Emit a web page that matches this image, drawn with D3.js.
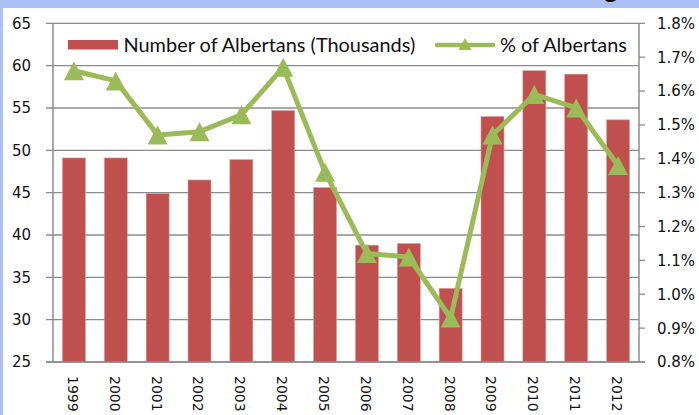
<!DOCTYPE html>
<html>
<head>
<meta charset="utf-8">
<script src="https://cdn.jsdelivr.net/npm/d3@7"></script>
<style>
  html, body { margin: 0; padding: 0; background: #fff; }
  svg { display: block; }
</style>
</head>
<body>
<svg id="svg" width="699" height="415"></svg>
<script>
const years = ['1999', '2000', '2001', '2002', '2003', '2004', '2005', '2006', '2007', '2008', '2009', '2010', '2011', '2012']
const albertans = [49.1, 49.1, 44.9, 46.5, 48.9, 54.7, 45.6, 38.8, 39.0, 33.7, 54.0, 59.4, 59.0, 53.6]
const pctAlbertans = [1.66, 1.63, 1.47, 1.48, 1.53, 1.67, 1.36, 1.12, 1.11, 0.93, 1.47, 1.59, 1.55, 1.38]
const leftTicks = [25, 30, 35, 40, 45, 50, 55, 60, 65]
const rightTicks = [0.8, 0.9, 1.0, 1.1, 1.2, 1.3, 1.4, 1.5, 1.6, 1.7, 1.8]
const legendLabels = ['Number of Albertans (Thousands)', '% of Albertans']

const barColor = '#c0504d'
const lineColor = '#9bbb59'
const gridColor = '#8c8c8c'

const svg = d3.select('#svg')

// light blue frame that bleeds in from the slide behind the chart
svg.append('rect').attr('x', 0).attr('y', 0).attr('width', 699).attr('height', 8).attr('fill', '#abc0f4')
svg.append('rect').attr('x', 0).attr('y', 0).attr('width', 3).attr('height', 415).attr('fill', '#abc0f4')
// the cut-off title, only the descender shows
svg.append('text').attr('x', 604).attr('y', -2)
  .style('font-family', 'Lato, sans-serif').style('font-size', '26px').style('font-weight', 'bold')
  .text('g')

const plotLeft = 53, plotRight = 639, plotTop = 23.3, plotBottom = 362

const x = d3.scaleBand().domain(years).range([plotLeft, plotRight]).paddingInner(0.45).paddingOuter(0.225)
const y = d3.scaleLinear().domain([25, 65]).range([plotBottom, plotTop])
const y2 = d3.scaleLinear().domain([0.8, 1.8]).range([plotBottom, plotTop])

// gridlines
svg.append('g')
  .selectAll('line')
  .data(leftTicks)
  .enter()
  .append('line')
  .attr('x1', plotLeft - 7)
  .attr('x2', plotRight)
  .attr('y1', d => y(d))
  .attr('y2', d => y(d))
  .attr('stroke', gridColor)
  .attr('stroke-width', 1.3)

// left axis labels
svg.append('g')
  .selectAll('text')
  .data(leftTicks)
  .enter()
  .append('text')
  .attr('x', 31)
  .attr('y', d => y(d))
  .attr('dy', '0.36em')
  .attr('text-anchor', 'end')
  .style('font-family', 'DejaVu Sans, sans-serif')
  .style('font-size', '15px')
  .attr('fill', '#111')
  .text(d => d)

// right axis ticks + labels
svg.append('g')
  .selectAll('line')
  .data(rightTicks)
  .enter()
  .append('line')
  .attr('x1', plotRight)
  .attr('x2', plotRight + 6)
  .attr('y1', d => y2(d))
  .attr('y2', d => y2(d))
  .attr('stroke', gridColor)
  .attr('stroke-width', 1.3)

svg.append('g')
  .selectAll('text')
  .data(rightTicks)
  .enter()
  .append('text')
  .attr('x', 657)
  .attr('y', d => y2(d))
  .attr('dy', '0.36em')
  .style('font-family', 'DejaVu Sans, sans-serif')
  .style('font-size', '15px')
  .attr('fill', '#111')
  .text(d => d3.format('.1f')(d) + '%')

// axis lines
svg.append('line').attr('x1', plotLeft).attr('x2', plotLeft).attr('y1', plotTop).attr('y2', plotBottom)
  .attr('stroke', gridColor).attr('stroke-width', 1.5)
svg.append('line').attr('x1', plotRight).attr('x2', plotRight).attr('y1', plotTop).attr('y2', plotBottom)
  .attr('stroke', gridColor).attr('stroke-width', 1.5)

// bars
svg.append('g')
  .selectAll('rect')
  .data(albertans)
  .enter()
  .append('rect')
  .attr('x', (d, i) => x(years[i]))
  .attr('width', x.bandwidth())
  .attr('y', d => y(d))
  .attr('height', d => plotBottom - y(d))
  .attr('fill', barColor)
  .attr('stroke', '#dba3a2')
  .attr('stroke-width', 0.6)

// bottom axis line on top of bars
svg.append('line').attr('x1', plotLeft - 7).attr('x2', plotRight + 6).attr('y1', plotBottom).attr('y2', plotBottom)
  .attr('stroke', gridColor).attr('stroke-width', 1.5)

// year labels, rotated
svg.append('g')
  .selectAll('text')
  .data(years)
  .enter()
  .append('text')
  .attr('transform', d => `translate(${x(d) + x.bandwidth() / 2 - 1},376) rotate(90)`)
  .attr('dy', '0.36em')
  .style('font-family', 'DejaVu Sans, sans-serif')
  .style('font-size', '14px')
  .attr('fill', '#111')
  .text(d => d)

// line series
const cx = i => x(years[i]) + x.bandwidth() / 2
const line = d3.line().x((d, i) => cx(i)).y(d => y2(d))
svg.append('path')
  .datum(pctAlbertans)
  .attr('d', line)
  .attr('fill', 'none')
  .attr('stroke', lineColor)
  .attr('stroke-width', 5)
  .attr('stroke-linejoin', 'round')

const tri = (w, h) => `M0,${-h / 2}L${w / 2},${h / 2}L${-w / 2},${h / 2}Z`
svg.append('g')
  .selectAll('path')
  .data(pctAlbertans)
  .enter()
  .append('path')
  .attr('transform', (d, i) => `translate(${cx(i)},${y2(d)})`)
  .attr('d', tri(20, 19))
  .attr('fill', lineColor)

// legend
const legend = svg.append('g')
legend.append('rect').attr('x', 68).attr('y', 40).attr('width', 50).attr('height', 9.5).attr('fill', barColor)
const t1 = legend.append('text').attr('x', 123.5).attr('y', 45).attr('dy', '0.35em')
  .style('font-family', 'Lato, sans-serif').style('font-size', '18px').attr('fill', '#111')
  .text(legendLabels[0])
// size the legend font so the label spans the same width as the original
const fs1 = 18 * 292 / t1.node().getComputedTextLength()
t1.style('font-size', fs1 + 'px')

legend.append('line').attr('x1', 437).attr('x2', 493).attr('y1', 45).attr('y2', 45)
  .attr('stroke', lineColor).attr('stroke-width', 4.5).attr('stroke-linecap', 'round')
legend.append('path').attr('transform', 'translate(465,44)').attr('d', tri(13, 12)).attr('fill', lineColor)
const t2 = legend.append('text').attr('x', 500).attr('y', 45).attr('dy', '0.35em')
  .style('font-family', 'Lato, sans-serif').style('font-size', fs1 + 'px').attr('fill', '#111')
  .text(legendLabels[1])
</script>
</body>
</html>
